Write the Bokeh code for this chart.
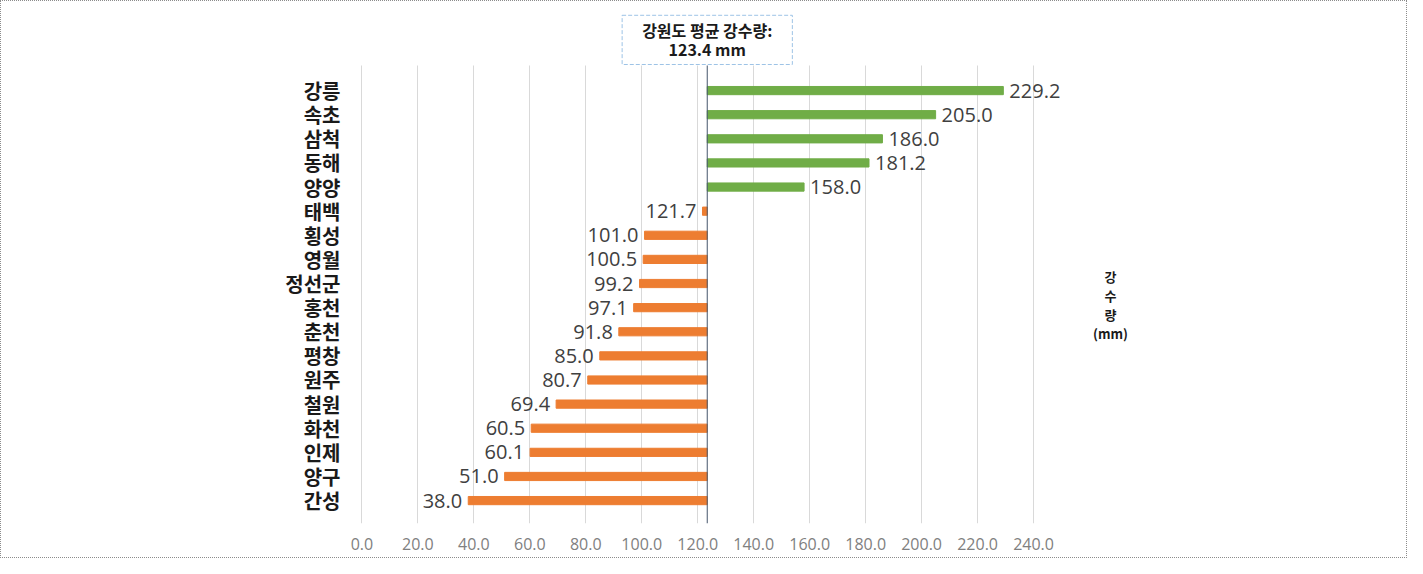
from bokeh.plotting import figure
from bokeh.models import (ColumnDataSource, Range1d, FixedTicker, NumeralTickFormatter,
                          Label, Grid)
from bokeh.core.properties import value
from bokeh.embed import file_html
from bokeh.resources import INLINE

regions = ["강릉", "속초", "삼척", "동해", "양양", "태백", "횡성", "영월", "정선군",
           "홍천", "춘천", "평창", "원주", "철원", "화천", "인제", "양구", "간성"]
rainfall = [229.2, 205.0, 186.0, 181.2, 158.0, 121.7, 101.0, 100.5, 99.2,
            97.1, 91.8, 85.0, 80.7, 69.4, 60.5, 60.1, 51.0, 38.0]
average = 123.4
x_ticks = [0, 20, 40, 60, 80, 100, 120, 140, 160, 180, 200, 220, 240]

GREEN = "#70AD47"
ORANGE = "#ED7D31"

idx = list(range(len(regions)))
colors = [GREEN if v >= average else ORANGE for v in rainfall]
labels = [f"{v:.1f}" for v in rainfall]
aligns = ["left" if v >= average else "right" for v in rainfall]
offsets = [6 if v >= average else -6 for v in rainfall]

src = ColumnDataSource(dict(y=idx, v=rainfall, base=[average] * len(rainfall),
                            c=colors, t=labels, a=aligns, o=offsets))

# plot-area (category band) limits in data units; extra room above for the note
band_bottom, band_top = 17.95, -1.04
view_top = -3.32

W, H = 1407, 558
p = figure(width=W, height=H, output_backend="svg", toolbar_location=None,
           x_range=Range1d(-0.5, 285), y_range=Range1d(band_bottom, view_top),
           min_border_left=359, min_border_right=W - 1158, min_border_top=9,
           min_border_bottom=H - 522,
           styles={"border": "1px dotted #8c8c8c"})
p.outline_line_color = None
p.background_fill_color = "white"
p.border_fill_color = "white"

# grid lines limited to the category band
p.xgrid.ticker = FixedTicker(ticks=x_ticks)
p.xgrid.grid_line_color = "#D9D9D9"
if "cross_bounds" in Grid.properties():
    p.xgrid.cross_bounds = (band_top, band_bottom)
p.ygrid.visible = False

p.hbar(y="y", left="base", right="v", height=0.34, color="c", source=src)

p.text(x="v", y="y", text="t", text_align="a", x_offset="o", text_baseline="middle",
       text_font=value("Open Sans"), text_font_size="20px", text_color="#404040",
       source=src)

# average line
p.segment(x0=[average], y0=[band_bottom], x1=[average], y1=[band_top],
          line_color="#44546A", line_width=1)

# x axis
p.xaxis.ticker = FixedTicker(ticks=x_ticks)
p.xaxis.formatter = NumeralTickFormatter(format="0.0")
p.xaxis.axis_line_color = None
p.xaxis.major_tick_line_color = None
p.xaxis.minor_tick_line_color = None
p.xaxis.major_tick_out = 0
p.xaxis.minor_tick_out = 0
p.xaxis.major_label_standoff = 14
p.xaxis.major_label_text_font = "Open Sans"
p.xaxis.major_label_text_font_size = "16px"
p.xaxis.major_label_text_color = "#808080"

# y axis
p.yaxis.ticker = FixedTicker(ticks=idx)
p.yaxis.major_label_overrides = {i: r for i, r in zip(idx, regions)}
p.yaxis.axis_line_color = None
p.yaxis.major_tick_line_color = None
p.yaxis.minor_tick_line_color = None
p.yaxis.major_tick_out = 0
p.yaxis.minor_tick_out = 0
p.yaxis.major_label_standoff = 20
p.yaxis.major_label_text_font = "Noto Sans CJK KR"
p.yaxis.major_label_text_font_style = "bold"
p.yaxis.major_label_text_font_size = "20px"
p.yaxis.major_label_text_color = "#1a1a1a"

# average annotation box
p.add_layout(Label(x=average, y=band_top, text="강원도 평균 강수량:\n123.4 mm",
                   text_align="center", text_baseline="bottom", y_offset=1,
                   text_font="Noto Sans CJK KR", text_font_style="bold",
                   text_font_size="16px", text_color="#1a1a1a", text_line_height=0.8,
                   border_line_color="#9DC3E6", border_line_dash="4 2",
                   border_line_width=1, background_fill_color="white",
                   padding=(20, 3)))

# axis title on the right
p.add_layout(Label(x=267.5, y=8.9, text="강\n수\n량\n(mm)", text_align="center",
                   text_baseline="middle", text_font="Noto Sans CJK KR",
                   text_font_style="bold", text_font_size="13px",
                   text_color="#1a1a1a", text_line_height=1.0))

open("out.html", "w").write(file_html(p, INLINE))
